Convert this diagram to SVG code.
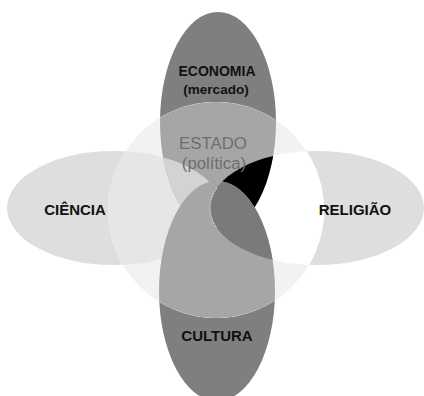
<svg xmlns="http://www.w3.org/2000/svg" xmlns:xlink="http://www.w3.org/1999/xlink" width="424" height="396" viewBox="0 0 424 396">
  <style>
    .lbl { font-family: "Liberation Sans", Arial, sans-serif; font-weight: bold; fill: #111111; text-anchor: middle; }
    .est { font-family: "Liberation Sans", Arial, sans-serif; font-weight: normal; fill: #6e6e6e; text-anchor: middle; font-size: 16.8px; }
  </style>
  <defs>
    <ellipse id="eT" cx="218" cy="122" rx="58" ry="110"/>
    <ellipse id="eB" cx="217" cy="291" rx="58" ry="110"/>
    <ellipse id="eL" cx="114" cy="208" rx="107" ry="57"/>
    <ellipse id="eR" cx="317" cy="208" rx="107" ry="57"/>
    <circle id="cC" cx="216" cy="210" r="108"/>
    <clipPath id="inC"><use xlink:href="#cC"/></clipPath>
    <clipPath id="inT"><use xlink:href="#eT"/></clipPath>
    <clipPath id="inB"><use xlink:href="#eB"/></clipPath>
    <mask id="outC" maskUnits="userSpaceOnUse" x="0" y="0" width="424" height="396">
      <rect x="0" y="0" width="424" height="396" fill="#ffffff"/>
      <use xlink:href="#cC" fill="#000000"/>
    </mask>
  </defs>

  <g id="node-ciencia">
    <use xlink:href="#eL" fill="#dedede" mask="url(#outC)"/>
    <text class="lbl" x="75" y="215" font-size="15">CIÊNCIA</text>
  </g>

  <g id="node-religiao">
    <use xlink:href="#eR" fill="#dedede" mask="url(#outC)"/>
  </g>

  <g id="node-economia">
    <use xlink:href="#eT" fill="#7f7f7f" mask="url(#outC)"/>
    <text class="lbl" x="217" y="76" font-size="14">ECONOMIA</text>
    <text class="lbl" x="216" y="94" font-size="13.5">(mercado)</text>
  </g>

  <g id="node-cultura">
    <use xlink:href="#eB" fill="#7f7f7f" mask="url(#outC)"/>
    <text class="lbl" x="217" y="341" font-size="15">CULTURA</text>
  </g>

  <g id="node-estado">
    <use xlink:href="#cC" fill="#f2f2f2"/>
    <g clip-path="url(#inC)">
      <use xlink:href="#eL" fill="#e6e6e6"/>
      <use xlink:href="#eR" fill="#ffffff"/>
      <use xlink:href="#eT" fill="#a6a6a6"/>
      <g clip-path="url(#inT)">
        <use xlink:href="#eL" fill="#d3d3d3"/>
        <use xlink:href="#eR" fill="#000000"/>
      </g>
      <use xlink:href="#eB" fill="#a6a6a6"/>
      <g clip-path="url(#inB)">
        <use xlink:href="#eR" fill="#7a7a7a"/>
      </g>
      <path d="M216.8,188 A107,57 0 0 0 216.8,228" fill="none" stroke="#f4f4f4" stroke-width="0.8" stroke-dasharray="2 1"/>
    </g>
    <text class="est" x="213" y="149">ESTADO</text>
    <text class="est" x="214" y="168.5">(política)</text>
  </g>

  <g id="label-religiao">
    <text class="lbl" x="355" y="215" font-size="15">RELIGIÃO</text>
  </g>

  <g id="connectors"></g>
</svg>
